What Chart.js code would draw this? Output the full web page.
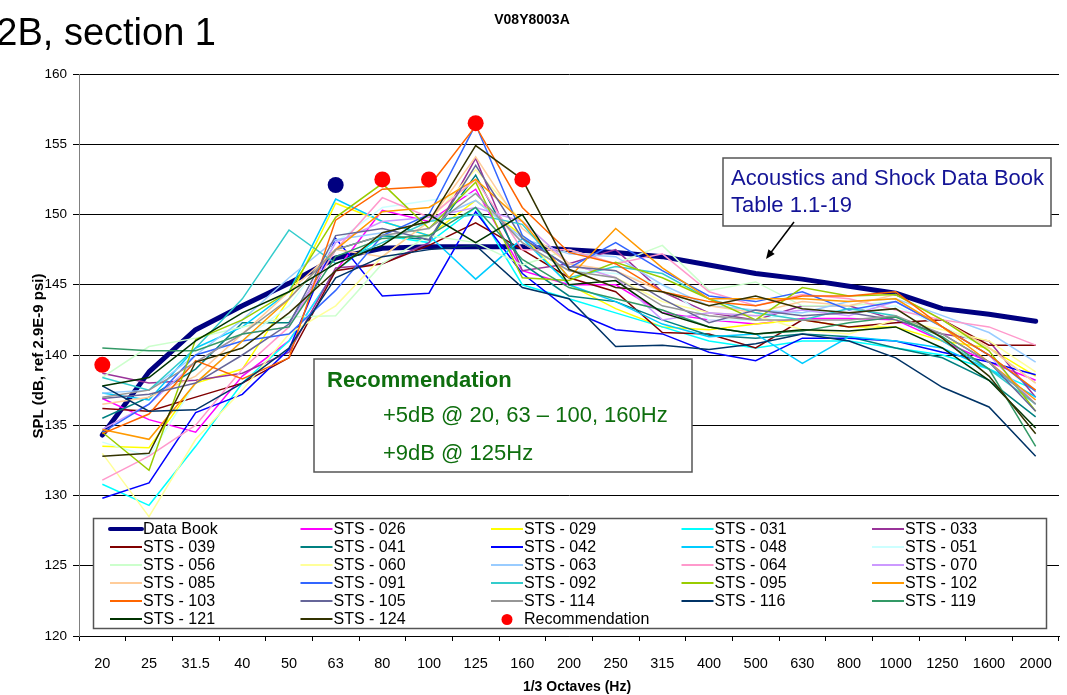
<!DOCTYPE html>
<html>
<head>
<meta charset="utf-8">
<script src="https://cdn.jsdelivr.net/npm/chart.js@4/dist/chart.umd.min.js"></script>
<style>
  body { margin: 0; background: #fff; }
  canvas { display: block; }
</style>
</head>
<body>
<canvas id="spl" width="1067" height="695"></canvas>
<script>
const freqLabels = ['20', '25', '31.5', '40', '50', '63', '80', '100', '125', '160', '200',
    '250', '315', '400', '500', '630', '800', '1000', '1250', '1600', '2000'];

const dataBook = [134.3, 138.8, 141.8, 143.5, 145.1, 146.9, 147.6, 147.7, 147.7, 147.7, 147.5, 147.3, 147.0, 146.4, 145.8, 145.4, 144.9, 144.4, 143.3, 142.9, 142.4];

const sts026 = [136.9, 135.4, 134.5, 138.5, 141.0, 146.0, 150.3, 149.5, 151.8, 146.0, 145.0, 145.0, 143.0, 142.5, 142.2, 142.6, 142.6, 142.5, 141.0, 139.5, 138.2];
const sts029 = [133.5, 133.4, 138.0, 139.0, 144.0, 150.8, 149.5, 148.5, 151.0, 148.5, 145.0, 143.3, 142.0, 141.8, 142.2, 142.5, 142.0, 142.0, 141.0, 140.5, 138.5];
const sts031 = [130.8, 129.3, 133.5, 138.0, 141.0, 146.0, 148.5, 148.0, 150.5, 145.0, 144.0, 143.0, 142.0, 141.0, 140.5, 141.0, 141.0, 140.5, 140.0, 139.0, 137.5];
const sts033 = [138.7, 138.0, 138.2, 138.7, 140.2, 146.2, 146.5, 148.0, 154.0, 146.0, 146.5, 147.5, 144.5, 143.0, 142.5, 143.5, 143.5, 142.5, 141.5, 141.0, 137.0];
const sts039 = [136.2, 136.0, 137.0, 138.0, 139.8, 146.0, 146.5, 147.8, 149.4, 147.5, 145.5, 144.5, 141.6, 141.5, 140.5, 142.5, 142.0, 142.3, 142.5, 140.7, 140.7];
const sts041 = [135.5, 137.0, 139.0, 142.3, 142.3, 147.5, 148.5, 148.2, 152.8, 146.5, 144.2, 143.8, 142.5, 141.4, 141.2, 141.5, 141.3, 140.5, 139.8, 138.2, 135.6];
const sts042 = [129.8, 130.9, 135.9, 137.2, 140.4, 148.3, 144.2, 144.4, 150.2, 145.8, 143.2, 141.8, 141.5, 140.2, 139.6, 141.2, 141.2, 141.0, 140.2, 139.5, 138.6];
const sts048 = [137.3, 136.8, 140.5, 142.0, 144.5, 151.1, 149.5, 148.5, 145.4, 148.3, 145.0, 143.8, 142.2, 141.3, 141.5, 139.4, 141.3, 141.0, 140.5, 139.0, 137.0];
const sts051 = [133.8, 132.8, 138.0, 141.0, 143.5, 148.0, 150.5, 151.0, 151.5, 148.0, 146.0, 145.8, 145.0, 142.5, 142.5, 143.0, 143.2, 143.5, 142.0, 140.0, 137.5];
const sts056 = [138.4, 140.6, 141.2, 142.0, 142.7, 142.8, 146.5, 148.5, 148.0, 146.4, 147.5, 146.5, 147.8, 144.6, 145.2, 143.5, 143.5, 143.8, 142.0, 140.5, 138.0];
const sts060 = [133.0, 128.5, 134.0, 137.5, 141.5, 143.5, 147.0, 149.5, 153.2, 149.5, 146.5, 145.5, 143.8, 143.0, 142.8, 141.8, 141.5, 142.5, 141.8, 141.0, 138.8];
const sts063 = [137.3, 137.5, 140.0, 142.5, 145.5, 148.2, 148.7, 149.5, 151.0, 148.3, 147.2, 147.0, 145.0, 143.5, 143.2, 143.0, 143.8, 144.0, 142.8, 141.6, 139.5];
const sts064 = [131.1, 132.8, 135.0, 139.0, 142.0, 147.5, 151.2, 149.8, 152.5, 147.5, 147.5, 146.5, 147.2, 144.5, 143.5, 144.3, 144.0, 143.2, 142.5, 142.0, 140.7];
const sts070 = [134.7, 136.5, 139.5, 141.5, 142.0, 148.0, 149.5, 149.8, 150.5, 149.5, 146.5, 145.5, 142.5, 143.0, 142.8, 143.2, 142.8, 143.8, 142.0, 140.0, 136.5];
const sts085 = [136.5, 137.0, 138.5, 141.5, 144.5, 147.5, 147.0, 149.5, 154.1, 149.0, 146.5, 146.0, 144.5, 143.5, 143.0, 143.8, 143.5, 144.3, 142.5, 140.5, 138.0];
const sts091 = [134.5, 136.5, 140.0, 141.0, 141.5, 144.6, 148.5, 150.0, 156.4, 148.5, 146.2, 148.0, 146.0, 144.2, 143.8, 144.5, 143.2, 143.8, 142.0, 140.0, 137.4];
const sts092 = [138.4, 137.5, 140.5, 144.0, 148.9, 146.5, 148.0, 149.5, 150.0, 149.3, 145.5, 146.3, 145.8, 144.0, 143.0, 142.5, 143.3, 142.8, 141.0, 139.0, 136.5];
const sts095 = [134.5, 131.8, 141.1, 142.5, 144.5, 149.8, 152.2, 149.0, 152.3, 145.5, 145.3, 146.6, 145.5, 144.0, 142.5, 144.8, 144.2, 144.3, 142.5, 140.3, 136.0];
const sts102 = [134.7, 134.0, 138.0, 141.0, 144.0, 147.5, 150.2, 150.5, 152.5, 149.5, 145.5, 149.0, 146.2, 144.0, 144.0, 144.0, 143.8, 144.0, 142.0, 139.5, 136.8];
const sts103 = [134.4, 135.8, 139.6, 138.3, 139.8, 149.6, 151.8, 152.0, 156.3, 150.5, 147.3, 146.5, 144.5, 143.8, 143.5, 144.2, 144.2, 144.5, 142.0, 140.0, 137.5];
const sts105 = [136.9, 137.2, 138.0, 140.0, 142.2, 148.5, 149.0, 148.2, 153.5, 148.3, 146.3, 146.0, 144.0, 142.3, 143.2, 142.8, 143.0, 142.5, 141.5, 139.5, 136.0];
const sts114 = [137.0, 137.5, 139.5, 141.5, 144.0, 147.5, 148.5, 149.0, 151.5, 148.0, 146.0, 145.5, 143.5, 142.8, 142.5, 142.5, 142.5, 142.8, 141.5, 139.5, 136.5];
const sts116 = [137.8, 136.0, 136.1, 138.0, 140.5, 145.5, 147.0, 147.5, 147.8, 144.8, 144.0, 140.6, 140.7, 140.4, 140.8, 141.5, 141.0, 139.8, 137.7, 136.3, 132.8];
const sts119 = [140.5, 140.3, 140.3, 141.5, 142.0, 147.0, 148.3, 148.5, 150.5, 146.8, 144.8, 144.0, 143.2, 142.0, 141.5, 141.7, 142.3, 142.7, 141.3, 139.0, 133.5];
const sts121 = [137.8, 138.4, 141.0, 143.0, 144.5, 146.5, 147.8, 150.0, 148.0, 150.0, 145.0, 145.3, 143.0, 142.0, 141.5, 141.8, 141.7, 142.0, 140.5, 138.2, 134.8];
const sts124 = [132.8, 133.0, 139.5, 140.5, 143.0, 146.0, 148.7, 149.5, 154.9, 152.5, 146.1, 144.8, 144.5, 143.5, 144.2, 143.3, 143.0, 143.3, 141.2, 138.5, 134.4];

// recommended levels (only a few bands)
const recommendation = [139.3, null, null, null, null, 152.1, 152.5, 152.5, 156.5, 152.5,
    null, null, null, null, null, null, null, null, null, null, null];

const stsNames = ['026', '029', '031', '033', '039', '041', '042', '048', '051', '056', '060', '063', '064',
    '070', '085', '091', '092', '095', '102', '103', '105', '114', '116', '119', '121', '124'];
const stsValues = [sts026, sts029, sts031, sts033, sts039, sts041, sts042, sts048, sts051, sts056, sts060, sts063, sts064,
    sts070, sts085, sts091, sts092, sts095, sts102, sts103, sts105, sts114, sts116, sts119, sts121, sts124];
const stsColors = ['#FF00FF', '#FFFF00', '#00FFFF', '#993399', '#800000', '#008080', '#0000FF', '#00CCFF', '#CCFFFF',
    '#CCFFCC', '#FFFF99', '#99CCFF', '#FF99CC', '#CC99FF', '#FFCC99', '#3366FF', '#33CCCC', '#99CC00', '#FF9900',
    '#FF6600', '#666699', '#969696', '#003366', '#339966', '#003300', '#333300'];

const FONT = 'Liberation Sans, Arial, sans-serif';

const datasets = [];
datasets.push({
    label: 'Data Book',
    data: dataBook,
    borderColor: '#000080',
    borderWidth: 5,
    borderJoinStyle: 'round',
    borderCapStyle: 'round',
    order: 0
});
stsNames.forEach((name, i) => {
    datasets.push({
        label: 'STS - ' + name,
        data: stsValues[i],
        borderColor: stsColors[i],
        borderWidth: 1.5,
        order: -(i + 1)
    });
});
// 63 Hz point is drawn in navy in the original
const recPointColors = recommendation.map((v, i) => i === 5 ? '#000080' : '#FF0000');
datasets.push({
    label: 'Recommendation',
    data: recommendation,
    showLine: false,
    borderColor: '#FF0000',
    pointRadius: 8,
    pointBorderWidth: 0,
    pointBackgroundColor: recPointColors,
    order: -100
});

function drawBox(ctx, x, y, w, h) {
    ctx.fillStyle = '#fff';
    ctx.fillRect(x, y, w, h);
    ctx.strokeStyle = '#555';
    ctx.lineWidth = 1.5;
    ctx.strokeRect(x, y, w, h);
}

const overlay = {
    id: 'overlay',
    afterDraw(chart) {
        const ctx = chart.ctx;
        ctx.save();

        // headings
        ctx.fillStyle = '#000';
        ctx.textBaseline = 'alphabetic';
        ctx.font = '38px ' + FONT;
        ctx.textAlign = 'right';
        ctx.fillText('2B, section 1', 216, 45);
        ctx.font = 'bold 14px ' + FONT;
        ctx.textAlign = 'center';
        ctx.fillText('V08Y8003A', 532, 24);

        // axis titles
        ctx.font = 'bold 14px ' + FONT;
        ctx.textBaseline = 'middle';
        ctx.fillText('1/3 Octaves (Hz)', 577, 687);
        ctx.save();
        ctx.translate(39, 356);
        ctx.rotate(-Math.PI / 2);
        ctx.font = 'bold 15px ' + FONT;
        ctx.fillText('SPL (dB, ref 2.9E-9 psi)', 0, 0);
        ctx.restore();

        // legend box inside the plot
        drawBox(ctx, 93.5, 518.5, 953, 110);
        ctx.textAlign = 'left';
        ctx.font = '16px ' + FONT;
        chart.data.datasets.forEach((ds, i) => {
            const col = i % 5;
            const row = Math.floor(i / 5);
            const x = 110 + col * 190.5;
            const y = 529 + row * 18;
            if (ds.showLine === false) {
                ctx.fillStyle = ds.borderColor;
                ctx.beginPath();
                ctx.arc(x + 16, y + 0.5, 5.5, 0, Math.PI * 2);
                ctx.fill();
            } else {
                ctx.strokeStyle = ds.borderColor;
                ctx.lineWidth = ds.borderWidth > 2 ? 4 : 2;
                ctx.lineCap = ds.borderWidth > 2 ? 'round' : 'butt';
                ctx.beginPath();
                ctx.moveTo(x, y);
                ctx.lineTo(x + 32, y);
                ctx.stroke();
            }
            ctx.fillStyle = '#000';
            ctx.fillText(ds.label, x + 33, y + 1);
        });

        // recommendation note
        drawBox(ctx, 314, 359, 378, 113);
        ctx.fillStyle = '#0E6E0E';
        ctx.font = 'bold 22px ' + FONT;
        ctx.fillText('Recommendation', 327, 381);
        ctx.font = '22px ' + FONT;
        ctx.fillText('+5dB @ 20, 63 \u2013 100, 160Hz', 383, 416);
        ctx.fillText('+9dB @ 125Hz', 383, 454);

        // data book note with arrow
        drawBox(ctx, 723, 158, 328, 68);
        ctx.fillStyle = '#141496';
        ctx.font = '22px ' + FONT;
        ctx.fillText('Acoustics and Shock Data Book', 731, 179);
        ctx.fillText('Table 1.1-19', 731, 206);

        const ax0 = 794, ay0 = 222, ax1 = 766, ay1 = 259;
        const ang = Math.atan2(ay1 - ay0, ax1 - ax0);
        ctx.strokeStyle = '#000';
        ctx.fillStyle = '#000';
        ctx.lineWidth = 1.5;
        ctx.beginPath();
        ctx.moveTo(ax0, ay0);
        ctx.lineTo(ax1 - 6 * Math.cos(ang), ay1 - 6 * Math.sin(ang));
        ctx.stroke();
        ctx.beginPath();
        ctx.moveTo(ax1, ay1);
        ctx.lineTo(ax1 - 10 * Math.cos(ang - 0.4), ay1 - 10 * Math.sin(ang - 0.4));
        ctx.lineTo(ax1 - 10 * Math.cos(ang + 0.4), ay1 - 10 * Math.sin(ang + 0.4));
        ctx.closePath();
        ctx.fill();

        ctx.restore();
    }
};

const ctx = document.getElementById('spl').getContext('2d');
new Chart(ctx, {
    type: 'line',
    data: { labels: freqLabels, datasets: datasets },
    plugins: [overlay],
    options: {
        responsive: false,
        animation: false,
        layout: { padding: { top: 74, right: 4, left: 0, bottom: 0 } },
        elements: {
            point: { radius: 0, hoverRadius: 0 },
            line: { tension: 0 }
        },
        plugins: {
            legend: { display: false },
            tooltip: { enabled: false },
            title: { display: false }
        },
        scales: {
            x: {
                offset: true,
                grid: { offset: true, drawOnChartArea: false, tickLength: 5, color: '#000' },
                border: { color: '#000' },
                ticks: {
                    color: '#000',
                    font: { family: FONT, size: 14.5 },
                    padding: 14,
                    maxRotation: 0,
                    autoSkip: false
                },
                afterFit: function(scale) { scale.height = 59; }
            },
            y: {
                min: 120,
                max: 160,
                ticks: {
                    stepSize: 5,
                    color: '#000',
                    font: { family: FONT, size: 13.5 },
                    padding: 6
                },
                grid: { color: '#000', tickLength: 6 },
                border: { color: '#808080' },
                afterFit: function(scale) { scale.width = 79; }
            }
        }
    }
});
</script>
</body>
</html>
